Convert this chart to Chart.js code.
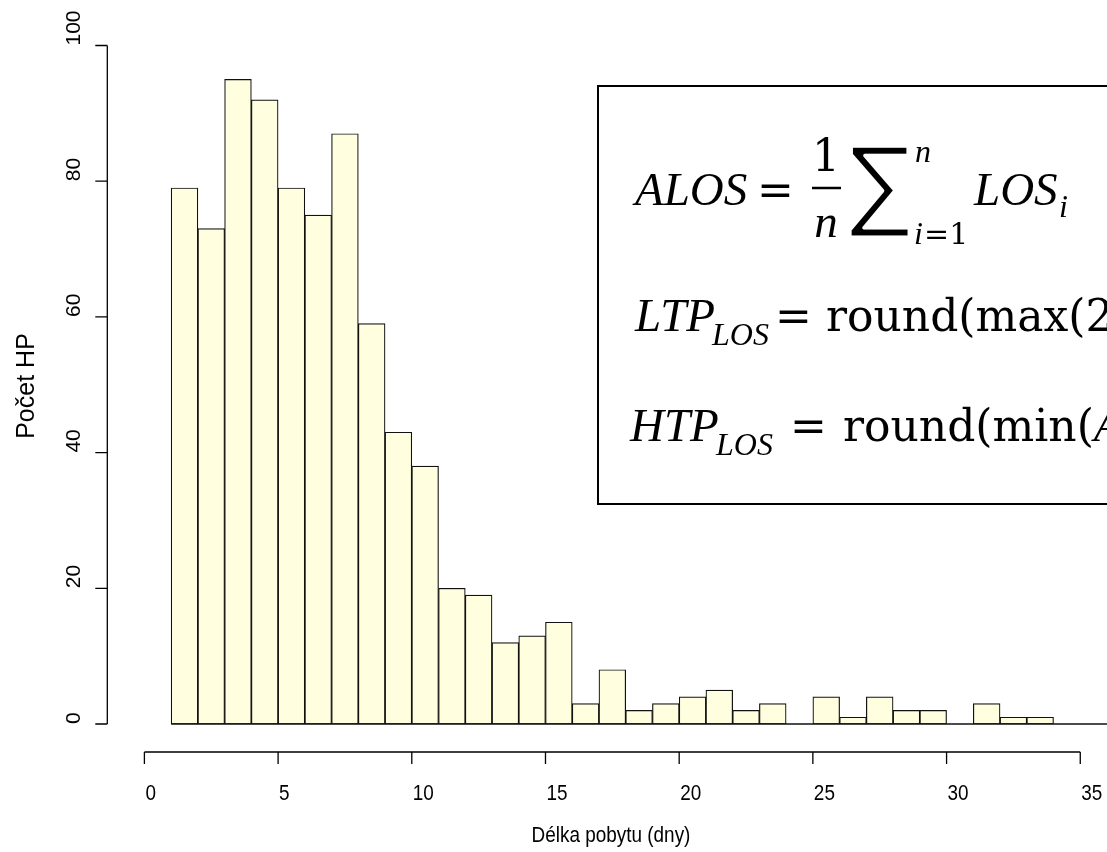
<!DOCTYPE html>
<html>
<head>
<meta charset="utf-8">
<script src="https://cdn.jsdelivr.net/npm/chart.js@4.4.0/dist/chart.umd.min.js"></script>
<style>
  html, body { margin: 0; padding: 0; background: #fff; overflow: hidden; }
  canvas { display: block; }
</style>
</head>
<body>
<canvas id="hist" width="1107" height="852"></canvas>
<script>
// histogram bins: left edge of each one-day bin and the count in it
const binStarts = [1, 2, 3, 4, 5, 6, 7, 8, 9, 10, 11, 12, 13, 14, 15, 16, 17, 18,
  19, 20, 21, 22, 23, 24, 25, 26, 27, 28, 29, 30, 31, 32, 33, 34, 35];
const counts = [79, 73, 95, 92, 79, 75, 87, 59, 43, 38, 20, 19, 12, 13, 15, 3, 8, 2,
  3, 4, 5, 2, 3, 0, 4, 1, 4, 2, 2, 0, 3, 1, 1, 0, 0];
const xTicks = [0, 5, 10, 15, 20, 25, 30, 35];
const yTicks = [0, 20, 40, 60, 80, 100];
const xTitle = 'Délka pobytu (dny)';
const yTitle = 'Počet HP';

const SANS = '"Liberation Sans", Arial, sans-serif';
const SERIF_I = '"Liberation Serif", serif';
const SERIF = '"DejaVu Serif", serif';

function txt(ctx, s, x, y, font, align) {
  ctx.font = font;
  ctx.textAlign = align || 'left';
  ctx.fillText(s, x, y);
}

// horizontally condensed text, as in the source image
function narrow(ctx, s, x, y, font, align, sx) {
  ctx.save();
  ctx.translate(x, y);
  ctx.scale(sx, 1);
  txt(ctx, s, 0, 0, font, align);
  ctx.restore();
}

// R-style detached axes, titles and the formula box
const rAxes = {
  id: 'rAxes',
  afterDatasetsDraw(chart) {
    const { ctx, scales: { x, y } } = chart;
    // bottom edges of all bins (zero-count bins show as a flat line)
    ctx.save();
    ctx.strokeStyle = '#111';
    ctx.lineWidth = 1.4;
    ctx.beginPath();
    ctx.moveTo(x.getPixelForValue(binStarts[0]), y.getPixelForValue(0));
    ctx.lineTo(x.getPixelForValue(binStarts[binStarts.length - 1] + 1), y.getPixelForValue(0));
    ctx.stroke();
    ctx.restore();
  },
  afterDraw(chart) {
    const { ctx, scales: { x, y } } = chart;
    ctx.save();
    ctx.strokeStyle = '#000';
    ctx.fillStyle = '#000';
    ctx.lineWidth = 1.3;
    ctx.textBaseline = 'alphabetic';

    // y axis
    const ax = 107.3;
    ctx.beginPath();
    ctx.moveTo(ax, y.getPixelForValue(yTicks[0]));
    ctx.lineTo(ax, y.getPixelForValue(yTicks[yTicks.length - 1]));
    yTicks.forEach((t) => {
      const py = y.getPixelForValue(t);
      ctx.moveTo(ax, py);
      ctx.lineTo(ax - 12, py);
    });
    ctx.stroke();
    yTicks.forEach((t) => {
      ctx.save();
      ctx.translate(80, y.getPixelForValue(t));
      ctx.rotate(-Math.PI / 2);
      txt(ctx, String(t), 0, 0, '21px ' + SANS, 'left');
      ctx.restore();
    });

    // x axis
    const ay = 752;
    ctx.beginPath();
    ctx.moveTo(x.getPixelForValue(xTicks[0]), ay);
    ctx.lineTo(x.getPixelForValue(xTicks[xTicks.length - 1]), ay);
    xTicks.forEach((t) => {
      const px = x.getPixelForValue(t);
      ctx.moveTo(px, ay);
      ctx.lineTo(px, ay + 12);
    });
    ctx.stroke();
    xTicks.forEach((t) => {
      narrow(ctx, String(t), x.getPixelForValue(t) + 1, 800, '22px ' + SANS, 'left', 0.86);
    });

    // axis titles
    narrow(ctx, xTitle, 611, 842, '22px ' + SANS, 'center', 0.86);
    ctx.save();
    ctx.translate(34, 386);
    ctx.rotate(-Math.PI / 2);
    txt(ctx, yTitle, 0, 0, '25px ' + SANS, 'center');
    ctx.restore();

    // formula box
    ctx.lineWidth = 2;
    ctx.strokeRect(598, 86, 700, 418);
    const big = '44px ' + SERIF;
    const bigI = 'italic 47px ' + SERIF_I;
    const smI = 'italic 32px ' + SERIF_I;
    const sm = '30px ' + SERIF;

    // ALOS = 1/n sum LOS_i
    txt(ctx, 'ALOS', 635, 205, bigI);
    txt(ctx, '=', 757, 205, big);
    txt(ctx, '1', 826, 171, big, 'center');
    ctx.beginPath();
    ctx.moveTo(812, 188);
    ctx.lineTo(841, 188);
    ctx.lineWidth = 2.5;
    ctx.stroke();
    txt(ctx, 'n', 826, 237, bigI, 'center');
    // summation sign fitted to its box, strokes thinned a little
    ctx.save();
    ctx.font = '100px "DejaVu Sans", sans-serif';
    ctx.textAlign = 'left';
    const m = ctx.measureText('\u2211');
    const gw = m.actualBoundingBoxLeft + m.actualBoundingBoxRight;
    const gh = m.actualBoundingBoxAscent + m.actualBoundingBoxDescent;
    const sx = 60 / gw;
    const sy = 92 / gh;
    ctx.translate(850, 146);
    ctx.scale(sx, sy);
    ctx.fillText('\u2211', m.actualBoundingBoxLeft, m.actualBoundingBoxAscent);
    ctx.strokeStyle = '#fff';
    ctx.lineWidth = 3.2 / sx;
    ctx.lineJoin = 'round';
    ctx.strokeText('\u2211', m.actualBoundingBoxLeft, m.actualBoundingBoxAscent);
    ctx.restore();
    txt(ctx, 'n', 915, 162, smI);
    txt(ctx, 'i', 914, 244, smI);
    txt(ctx, '=1', 924, 244, sm);
    txt(ctx, 'LOS', 974, 205, bigI);
    txt(ctx, 'i', 1059, 217, smI);

    // LTP_LOS = round(max(2
    txt(ctx, 'LTP', 635, 331, bigI);
    txt(ctx, 'LOS', 712, 345, smI);
    txt(ctx, '=', 775, 331, big);
    txt(ctx, 'round(max(2', 826, 331, big);

    // HTP_LOS = round(min(A
    txt(ctx, 'HTP', 630, 441, bigI);
    txt(ctx, 'LOS', 716, 455, smI);
    txt(ctx, '=', 790, 441, big);
    txt(ctx, 'round(min(', 843, 441, big);
    ctx.font = big;
    const w = ctx.measureText('round(min(').width;
    txt(ctx, 'A', 843 + w, 441, bigI);
    ctx.restore();
  }
};

new Chart(document.getElementById('hist'), {
  type: 'bar',
  data: {
    datasets: [{
      data: binStarts.map((b, i) => ({ x: b + 0.5, y: counts[i] })),
      backgroundColor: '#FFFFE0',
      borderColor: '#111',
      borderWidth: 1.2,
      borderSkipped: false,
      barPercentage: 1,
      categoryPercentage: 1,
    }],
  },
  options: {
    responsive: false,
    animation: false,
    devicePixelRatio: 1,
    layout: { padding: { left: 144.4, right: 0, top: 45.5, bottom: 128 } },
    plugins: { legend: { display: false }, tooltip: { enabled: false } },
    scales: {
      x: { type: 'linear', min: 0, max: 36, offset: false, display: false },
      y: { min: 0, max: 100, display: false },
    },
  },
  plugins: [rAxes],
});
</script>
</body>
</html>
